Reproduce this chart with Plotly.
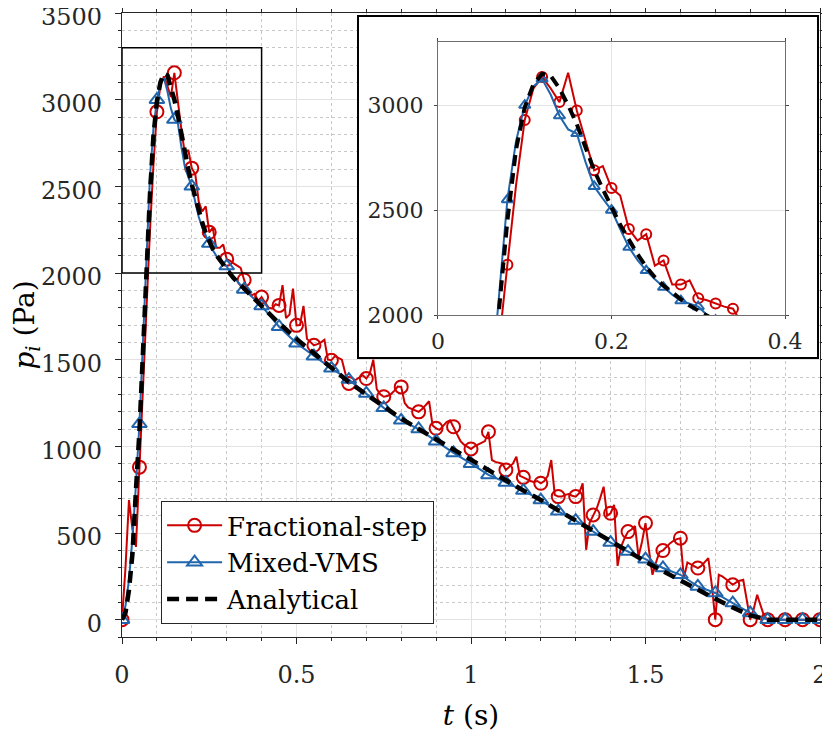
import numpy as np
import plotly.graph_objects as go

# Fractional-step pressure (Pa), sampled every 0.01 s from 0 to 2 s
t_fs = np.round(np.arange(0, 2.001, 0.01), 2)
p_fs = [
    0, 300, 690, 520, 420,
    880, 1330, 1850, 2240, 2620,
    2930, 3080, 3135, 3080, 3015,
    3155, 2975, 2830, 2690, 2710,
    2605, 2570, 2410, 2355, 2385,
    2235, 2260, 2145, 2145, 2165,
    2080, 2070, 2055, 2040, 2030,
    1960, 1900, 1870, 1880, 1840,
    1861, 1830, 1800, 1795, 1820,
    1813, 1930, 1740, 1760, 1910,
    1698, 1700, 1810, 1620, 1600,
    1583, 1590, 1600, 1615, 1500,
    1497, 1520, 1510, 1500, 1420,
    1363, 1370, 1385, 1395, 1410,
    1391, 1420, 1500, 1330, 1300,
    1286, 1290, 1300, 1320, 1345,
    1343, 1250, 1225, 1215, 1205,
    1199, 1215, 1240, 1260, 1120,
    1104, 1095, 1120, 1140, 1150,
    1113, 1070, 1030, 1010, 995,
    985, 1000, 1010, 1020, 1030,
    1084, 921, 910, 905, 900,
    864, 880, 900, 940, 830,
    821, 810, 800, 795, 800,
    787, 800, 830, 921, 720,
    710, 710, 720, 725, 715,
    710, 730, 787, 403, 560,
    604, 640, 700, 767, 600,
    614, 662, 310, 420, 470,
    508, 520, 540, 364, 450,
    557, 400, 259, 330, 390,
    399, 420, 440, 455, 465,
    470, 240, 330, 320, 310,
    298, 310, 330, 355, 200,
    0, 259, 250, 235, 220,
    201, 215, 225, 230, 120,
    0, 60, 144, 80, 20,
    0, 0, 0, 0, 0,
    0, 0, 0, 0, 0,
    0, 0, 0, 0, 0,
    0,
]

# Mixed-VMS and analytical: 0.01 s steps up to 0.35 s, then 0.05 s steps
t_vms = np.round(np.r_[np.arange(0, 0.351, 0.01), np.arange(0.40, 2.001, 0.05)], 2)
p_vms = [
    0, 80, 230, 470, 780,
    1130, 1600, 2060, 2550, 2830,
    3000, 3090, 3125, 3050, 2950,
    2885, 2865, 2730, 2613, 2555,
    2500, 2410, 2323, 2262, 2212,
    2170, 2132, 2097, 2068, 2053,
    2040, 2000, 1975, 1950, 1925,
    1905,
    1810, 1690, 1595, 1520, 1450, 1385, 1305, 1222, 1150, 1100,
    1030, 962, 900, 835, 792, 745, 690, 625, 572, 508,
    445, 393, 349, 298, 259, 192, 154, 96, 39, 0,
    0, 0, 0,
]

t_an = t_vms
p_an = [
    0, 40, 170, 380, 750,
    1090, 1540, 2010, 2450, 2790,
    2990, 3100, 3150, 3140, 3080,
    3000, 2910, 2800, 2690, 2600,
    2510, 2430, 2360, 2290, 2230,
    2180, 2140, 2105, 2075, 2045,
    2020, 1995, 1970, 1950, 1930,
    1910,
    1810, 1710, 1620, 1535, 1450, 1370, 1300, 1230, 1160, 1100,
    1040, 985, 925, 865, 805, 745, 690, 630, 575, 515,
    455, 390, 335, 280, 225, 170, 120, 70, 25, 0,
    0, 0, 0,
]

x_ticks = [0, 0.5, 1, 1.5, 2]
y_ticks = [0, 500, 1000, 1500, 2000, 2500, 3000, 3500]
inset_x_ticks = [0, 0.2, 0.4]
inset_y_ticks = [2000, 2500, 3000]

RED = "#CC0000"
BLUE = "#2166AC"
AXC = "#262626"
FONT = "DejaVu Serif"


def every(t, p, step, tmax=9.0):
    # keep only the samples on a 'step' grid, each one isolated by a gap
    xs, ys = [], []
    for ti, pi in zip(t, p):
        if abs(ti / step - round(ti / step)) < 1e-6 and ti <= tmax + 1e-9:
            xs += [ti, None]
            ys += [pi, None]
    return xs, ys


fig = go.Figure()

series = [
    ("Fractional-step", t_fs, p_fs, RED, "circle-open"),
    ("Mixed-VMS", t_vms, p_vms, BLUE, "triangle-up-open"),
]

# main plot
for name, t, p, col, sym in series:
    fig.add_trace(go.Scatter(x=t, y=p, mode="lines", showlegend=False,
                             line=dict(color=col, width=2), hoverinfo="skip"))
    mx, my = every(t, p, 0.05)
    fig.add_trace(go.Scatter(x=mx, y=my, mode="lines+markers", name=name,
                             connectgaps=False, line=dict(color=col, width=2),
                             marker=dict(symbol=sym, size=13, color=col,
                                         line=dict(width=2, color=col))))
fig.add_trace(go.Scatter(x=t_an, y=p_an, mode="lines", name="Analytical",
                         line=dict(color="black", width=4.5, dash="12px,7px")))

# empty frame that holds the inset (white box over the main grid)
fig.add_trace(go.Scatter(x=[None], y=[None], xaxis="x2", yaxis="y2",
                         showlegend=False, hoverinfo="skip"))

# inset (zoom of the peak)
for name, t, p, col, sym in series:
    keep = t <= 0.35 + 1e-9
    tt = t[keep]
    pp = list(np.asarray(p)[keep])
    fig.add_trace(go.Scatter(x=tt, y=pp, mode="lines", showlegend=False,
                             xaxis="x3", yaxis="y3", hoverinfo="skip",
                             line=dict(color=col, width=2)))
    mx, my = every(tt, pp, 0.02, tmax=0.34)
    fig.add_trace(go.Scatter(x=mx, y=my, mode="markers", showlegend=False,
                             xaxis="x3", yaxis="y3",
                             marker=dict(symbol=sym, size=10, color=col,
                                         line=dict(width=2, color=col))))
keep = t_an <= 0.35 + 1e-9
fig.add_trace(go.Scatter(x=t_an[keep], y=list(np.asarray(p_an)[keep]), mode="lines",
                         showlegend=False, xaxis="x3", yaxis="y3",
                         line=dict(color="black", width=4, dash="11px,7px")))

# zoom window on the main plot
fig.add_shape(type="rect", xref="x", yref="y", x0=0, x1=0.4, y0=2000, y1=3300,
              line=dict(color="black", width=1.5))

fig.update_layout(
    width=830, height=731,
    # the page body adds 8 px on the left and top
    margin=dict(l=114, r=18, t=5, b=102),
    paper_bgcolor="white", plot_bgcolor="white",
    font=dict(family=FONT, size=24, color=AXC),
    xaxis=dict(
        domain=[0, 1], range=[0, 2], tickvals=x_ticks, ticktext=["0", "0.5", "1", "1.5", "2"],
        showline=True, linecolor=AXC, linewidth=1.2, mirror="ticks",
        ticks="outside", ticklen=6, tickcolor=AXC, tickwidth=1,
        showgrid=True, gridcolor="#e3e3e3", gridwidth=1, zeroline=False,
        minor=dict(dtick=0.1, tick0=0, ticks="outside", ticklen=3, tickcolor=AXC,
                   showgrid=True, gridcolor="#c8c8c8", griddash="dot", gridwidth=1),
        title=dict(text="<i>t</i> (s)", font=dict(size=28, color="black"), standoff=17),
        tickfont=dict(size=24), ticklabelstandoff=10, automargin=False,
        ticklabeloverflow="allow",
    ),
    yaxis=dict(
        domain=[0, 1], range=[-100, 3500], tickvals=y_ticks,
        showline=True, linecolor=AXC, linewidth=1.2, mirror="ticks",
        ticks="outside", ticklen=6, tickcolor=AXC, tickwidth=1,
        showgrid=True, gridcolor="#e3e3e3", gridwidth=1, zeroline=False,
        minor=dict(dtick=100, tick0=0, ticks="outside", ticklen=3, tickcolor=AXC,
                   showgrid=True, gridcolor="#c8c8c8", griddash="dot", gridwidth=1),
        title=dict(text="<i>p</i><sub><i>i</i></sub> (Pa)", font=dict(size=28, color="black"),
                   standoff=10),
        tickfont=dict(size=24), ticklabelstandoff=8, ticklabelshift=4,
        automargin=False, ticklabeloverflow="allow",
    ),
    xaxis2=dict(domain=[0.3395, 0.9957], range=[0, 1], anchor="y2",
                showline=True, linecolor="black", linewidth=2, mirror=True,
                showgrid=False, zeroline=False, showticklabels=False, ticks="",
                automargin=False),
    yaxis2=dict(domain=[0.4487, 0.9936], range=[0, 1], anchor="x2",
                showline=True, linecolor="black", linewidth=2, mirror=True,
                showgrid=False, zeroline=False, showticklabels=False, ticks="",
                automargin=False),
    xaxis3=dict(domain=[0.4527, 0.9499], range=[0, 0.4], anchor="y3",
                tickvals=inset_x_ticks, ticktext=["0", "0.2", "0.4"],
                showline=True, linecolor="#6e6e6e", linewidth=1, mirror="ticks",
                ticks="outside", ticklen=3, tickcolor="#444444",
                showgrid=True, gridcolor="#e3e3e3", zeroline=False,
                tickfont=dict(size=22), ticklabelstandoff=4, automargin=False),
    yaxis3=dict(domain=[0.516, 0.953], range=[2000, 3300], anchor="x3",
                tickvals=inset_y_ticks,
                showline=True, linecolor="#6e6e6e", linewidth=1, mirror="ticks",
                ticks="outside", ticklen=3, tickcolor="#444444",
                showgrid=True, gridcolor="#e3e3e3", zeroline=False,
                tickfont=dict(size=22), ticklabelstandoff=6, automargin=False),
    legend=dict(
        x=0.056, y=0.218, xanchor="left", yanchor="top",
        bgcolor="white", bordercolor=AXC, borderwidth=1,
        font=dict(size=26, color="black"), itemwidth=55,
        tracegroupgap=0,
    ),
    showlegend=True,
)

fig.write_html("out.html")
